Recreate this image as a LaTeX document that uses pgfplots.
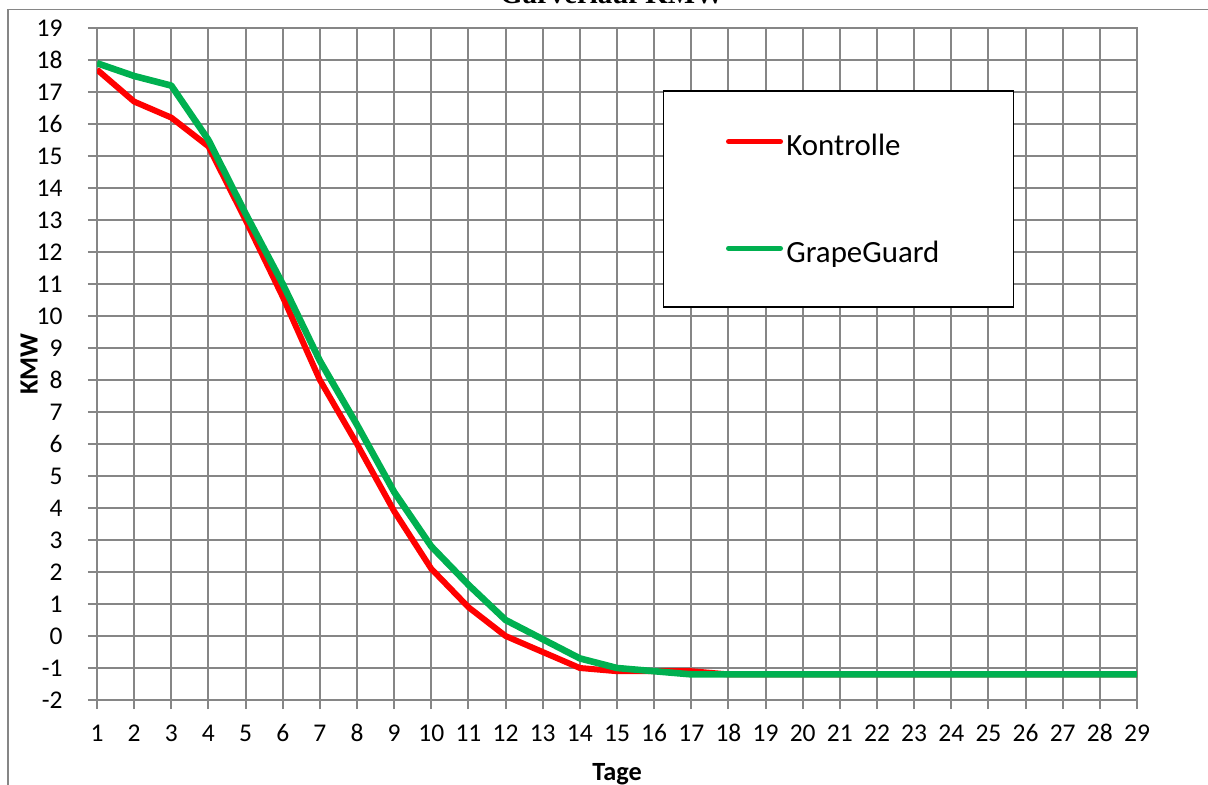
\documentclass[border=0pt]{standalone}
\usepackage{fontspec}
\setmainfont{Carlito}
\newfontfamily\titlefont{Liberation Serif}
\usepackage{pgfplots}
\pgfplotsset{compat=1.18}
\definecolor{gridc}{RGB}{134,134,134}
\definecolor{kred}{RGB}{255,0,0}
\definecolor{ggreen}{RGB}{0,176,80}
\begin{document}
\begin{tikzpicture}
\begin{axis}[
  scale only axis, width=520bp, height=336bp,
  xmin=1, xmax=29, ymin=-2, ymax=19,
  xtick={1,2,3,4,5,6,7,8,9,10,11,12,13,14,15,16,17,18,19,20,21,22,23,24,25,26,27,28,29},
  xticklabels={1,2,3,4,5,6,7,8,9,10,11,12,13,14,15,16,17,18,19,20,21,22,23,24,25,26,27,28,29},
  ytick={-2,-1,0,1,2,3,4,5,6,7,8,9,10,11,12,13,14,15,16,17,18,19},
  yticklabels={-2,-1,0,1,2,3,4,5,6,7,8,9,10,11,12,13,14,15,16,17,18,19},
  grid=major, major grid style={gridc, line width=1bp},
  axis line style={gridc, line width=1bp},
  tick style={gridc, line width=1bp},
  tick align=outside, major tick length=4.5bp, tick pos=left,
  ticklabel style={font=\fontsize{12.8}{15}\selectfont, inner sep=0pt},
  xticklabel style={anchor=base, yshift=-16bp},
  yticklabel style={anchor=east, xshift=-12.5bp},
  xlabel={\bfseries Tage},
  xlabel style={at={(axis description cs:0.5,0)}, anchor=base, yshift=-40bp, inner sep=0pt, font=\fontsize{13.2}{15}\selectfont},
  ylabel={\bfseries KMW},
  ylabel style={at={(axis description cs:0,0.5)}, anchor=center, yshift=34bp, inner sep=0pt, font=\fontsize{13.2}{15}\selectfont},
  legend style={at={(axis description cs:0.5442,0.9077)}, anchor=north west,
    draw=black, line width=0.75bp, fill=white,
    inner xsep=29.5bp, inner ysep=21.9bp, row sep=42.4bp, column sep=0bp,
    font=\fontsize{15.5}{18}\selectfont,
    nodes={inner sep=0pt, text height=10.5bp, text depth=0.5bp}},
  legend cell align=left,
  legend image code/.code={\path (0bp,0bp) (28.5bp,0bp);\draw[#1, line width=2.5bp, line cap=round] (1.25bp,2bp) -- (27.25bp,2bp);},
]
\addplot[kred, line width=3bp, line join=round] coordinates {
 (1,17.7) (2,16.7) (3,16.2) (4,15.3) (5,13.0) (6,10.6) (7,8.0) (8,6.0) (9,3.9) (10,2.1)
 (11,0.9) (12,0.0) (13,-0.5) (14,-1.0) (15,-1.1) (16,-1.1) (17,-1.1) (18,-1.2) (19,-1.2) (20,-1.2)
 (21,-1.2) (22,-1.2) (23,-1.2) (24,-1.2) (25,-1.2) (26,-1.2) (27,-1.2) (28,-1.2) (29,-1.2)};
\addlegendentry{Kontrolle}
\addplot[ggreen, line width=3.3bp, line join=round] coordinates {
 (1,17.9) (2,17.5) (3,17.2) (4,15.5) (5,13.2) (6,11.0) (7,8.6) (8,6.6) (9,4.5) (10,2.8)
 (11,1.6) (12,0.5) (13,-0.1) (14,-0.7) (15,-1.0) (16,-1.1) (17,-1.2) (18,-1.2) (19,-1.2) (20,-1.2)
 (21,-1.2) (22,-1.2) (23,-1.2) (24,-1.2) (25,-1.2) (26,-1.2) (27,-1.2) (28,-1.2) (29,-1.2)};
\addlegendentry{GrapeGuard\hspace*{7.5bp}}
\end{axis}
\draw[gridc, line width=0.75bp] (-44.5bp,-60bp) -- (-44.5bp,345.25bp) -- (570bp,345.25bp);
\node[anchor=base, inner sep=0pt, font=\fontsize{14.5}{17}\selectfont\titlefont\bfseries] at (257.5bp,348bp) {Gärverlauf KMW};
\pgfresetboundingbox
\path[use as bounding box] (-48.5bp,-42.5bp) rectangle (555.5bp,350bp);
\end{tikzpicture}
\end{document}
